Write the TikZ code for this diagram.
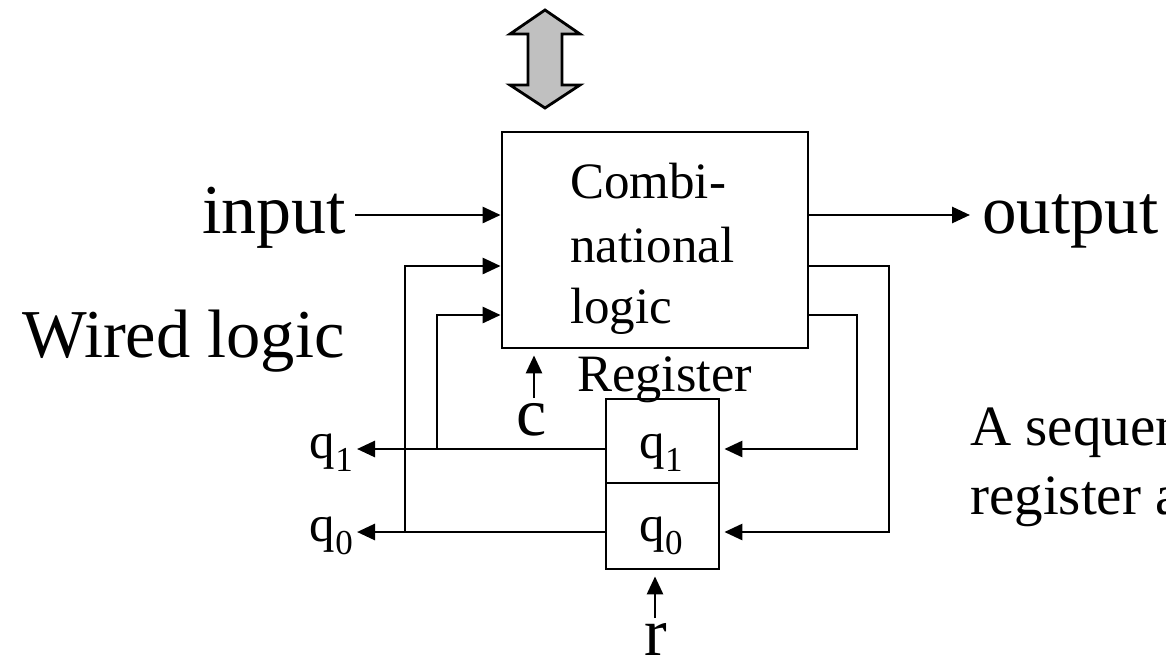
\documentclass[tikz,border=0pt]{standalone}
\usepackage{fontspec}
\setmainfont{Liberation Serif}
\usetikzlibrary{arrows.meta}
\newcommand{\fsz}[1]{\fontsize{#1}{#1}\selectfont}
\newcommand{\qsub}[1]{q\raisebox{-13pt}{\fsz{35}#1}}
\definecolor{bigarrow}{HTML}{C0C0C0}
\tikzset{
  wire/.style={line width=2.8pt, line join=miter},
  sig/.style={wire, -{Triangle[length=18pt,width=16pt]}},
  blk/.style={draw, line width=2.8pt, inner sep=0pt},
  lab/.style={inner sep=0pt, anchor=base west},
  clab/.style={inner sep=0pt, anchor=base},
}
\begin{document}
\begin{tikzpicture}[x=1pt,y=-1pt]
\useasboundingbox (0,0) rectangle (1166,659);
\clip (0,0) rectangle (1166,659);

% bidirectional bus arrow above the logic block
\draw[line width=2.8pt, line join=miter, fill=bigarrow]
  (545,10) -- (580,34) -- (562,34) -- (562,85) -- (580,85) -- (545,108)
  -- (510,85) -- (528,85) -- (528,34) -- (510,34) -- cycle;

% blocks
\node[blk, minimum width=306pt, minimum height=216pt] (comb) at (655,240) {};
\node[blk, minimum width=113pt, minimum height=84pt] (reg1) at (662.5,441) {};
\node[blk, minimum width=113pt, minimum height=86pt] (reg0) at (662.5,526) {};

% block texts
\node[lab, font=\fsz{51}] (t1) at (570,198) {Combi-};
\node[lab, font=\fsz{51}] (t2) at (570,262) {national};
\node[lab, font=\fsz{51}] (t3) at (570,323) {logic};
\node[lab, font=\fsz{52.5}] (regname) at (577,391) {Register};
\node[clab, font=\fsz{51}] (rq1) at (661,458) {\qsub{1}};
\node[clab, font=\fsz{51}] (rq0) at (661,541) {\qsub{0}};

% outer labels
\node[lab, font=\fsz{70}] (inp) at (202,233) {input};
\node[lab, font=\fsz{69}] (outp) at (982,233) {output};
\node[lab, font=\fsz{68.5}] (wired) at (22,357) {Wired logic};
\node[clab, font=\fsz{68}] (clk) at (532,435) {c};
\node[clab, font=\fsz{68}] (rst) at (656,655) {r};
\node[inner sep=0pt, anchor=base east, font=\fsz{51}] (oq1) at (353,458) {\qsub{1}};
\node[inner sep=0pt, anchor=base east, font=\fsz{51}] (oq0) at (353,541) {\qsub{0}};
\node[lab, font=\fsz{57}] (cap1) at (970,445) {A sequen};
\node[lab, font=\fsz{57}] (cap2) at (970,514) {register a};

% signal levels and wire corners
\coordinate (yIn) at (0,215);
\coordinate (yA) at (0,266);
\coordinate (yB) at (0,315);
\coordinate (yQ1) at (0,449);
\coordinate (yQ0) at (0,532);
\coordinate (inStart) at (355,215);
\coordinate (outEnd) at (970,215);
\coordinate (fbR0) at (889,0);
\coordinate (fbR1) at (857,0);
\coordinate (fbL0) at (405,0);
\coordinate (fbL1) at (437,0);
\coordinate (q1tip) at (357,449);
\coordinate (q0tip) at (357,532);
\coordinate (cfoot) at (534,398);
\coordinate (rfoot) at (655,618);

% primary input and output
\draw[sig] (inStart) -- (inStart -| comb.west);
\draw[sig] (comb.east |- yIn) -- (outEnd);

% next-state lines into the register
\draw[sig, shorten >=4pt] (comb.east |- yA) -| (fbR0 |- yQ0) -- (reg0.east |- yQ0);
\draw[sig, shorten >=4pt] (comb.east |- yB) -| (fbR1 |- yQ1) -- (reg1.east |- yQ1);

% register outputs
\draw[sig] (reg1.west |- yQ1) -- (q1tip);
\draw[sig] (reg0.west |- yQ0) -- (q0tip);

% state fed back into the logic
\draw[sig] (fbL0 |- yQ0) |- (comb.west |- yA);
\draw[sig] (fbL1 |- yQ1) |- (comb.west |- yB);

% clock and reset
\draw[sig, shorten >=6pt] (cfoot) -- (cfoot |- comb.south);
\draw[sig, shorten >=6pt] (rfoot) -- (rfoot |- reg0.south);
\end{tikzpicture}
\end{document}
